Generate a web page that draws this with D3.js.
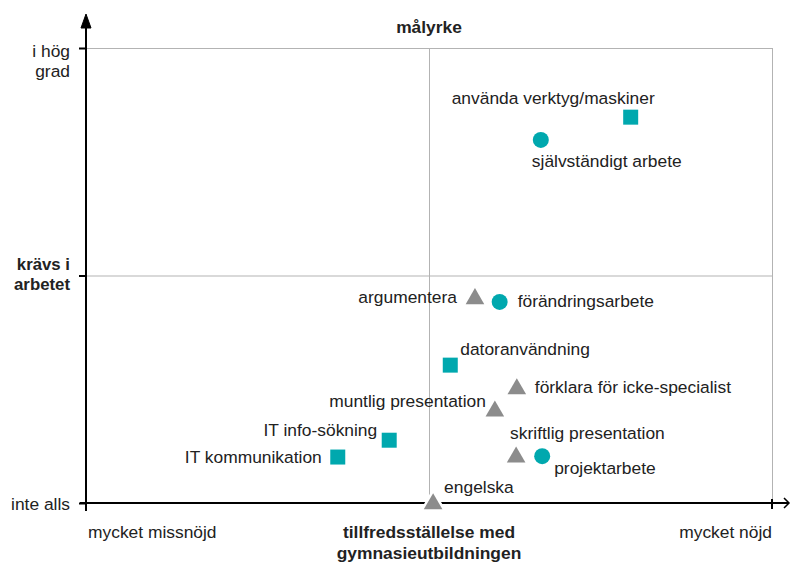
<!DOCTYPE html>
<html>
<head>
<meta charset="utf-8">
<script src="https://cdn.jsdelivr.net/npm/d3@7"></script>
<style>
  body { margin: 0; background: #fff; }
  text { font-family: "Liberation Sans", Arial, sans-serif; fill: #222; }
</style>
</head>
<body>
<script>
// DATA
var skills = ["använda verktyg/maskiner", "självständigt arbete", "argumentera", "förändringsarbete",
  "datoranvändning", "förklara för icke-specialist", "muntlig presentation", "skriftlig presentation",
  "projektarbete", "IT info-sökning", "IT kommunikation", "engelska"];
var satisfaction = [0.794, 0.663, 0.567, 0.603, 0.531, 0.628, 0.596, 0.627, 0.665, 0.442, 0.367, 0.506];
var required = [0.848, 0.798, 0.451, 0.442, 0.303, 0.253, 0.204, 0.103, 0.103, 0.138, 0.101, 0.0];
var shapes = ["square", "circle", "triangle", "circle", "square", "triangle", "triangle", "triangle",
  "circle", "square", "square", "triangle"];
var yTickValues = [0, 0.5, 1];
var yTickLabels = [["inte alls"], ["krävs i", "arbetet"], ["i hög", "grad"]];
var xEndLabels = ["mycket missnöjd", "mycket nöjd"];

// label placement: [dx, dy, anchor]
var labelPos = [
  [-179, -13, "start"], [-9, 27, "start"], [-18, 5, "end"], [18, 5, "start"],
  [10, -10, "start"], [18, 5, "start"], [-9, -3, "end"], [-6, -17, "start"],
  [12, 18, "start"], [-12, -4, "end"], [-16, 6, "end"], [11, -10, "start"]
];

var data = skills.map(function(s, i) {
  return {name: s, x: satisfaction[i], y: required[i], shape: shapes[i], lp: labelPos[i]};
});

var svg = d3.select("body").append("svg")
  .attr("width", 791).attr("height", 562);

const fs = 17.4;
const fsBold = 17.4;
const margin = {top: 48, right: 19, bottom: 59, left: 86};
const width = 791 - margin.left - margin.right;
const height = 562 - margin.top - margin.bottom;

const xScale = d3.scaleLinear().domain([0, 1]).range([margin.left, margin.left + width]);
const yScale = d3.scaleLinear().domain([0, 1]).range([margin.top + height, margin.top]);

var grid = svg.append("g").attr("stroke", "#b3b3b3").attr("stroke-width", 1);
// horizontal grid lines
grid.selectAll(".hg").data([0.5, 1]).enter().append("line")
  .attr("x1", xScale(0)).attr("x2", xScale(1))
  .attr("y1", d => yScale(d) + 0.5).attr("y2", d => yScale(d) + 0.5);
// vertical grid lines
grid.selectAll(".vg").data([0.5, 1]).enter().append("line")
  .attr("x1", d => xScale(d) + 0.5).attr("x2", d => xScale(d) + 0.5)
  .attr("y1", yScale(1)).attr("y2", yScale(0));

// axes
var axes = svg.append("g").attr("stroke", "#000").attr("stroke-width", 2).attr("fill", "none");
axes.append("line").attr("x1", xScale(0)).attr("x2", xScale(0))
  .attr("y1", yScale(0) + 8).attr("y2", 22);
axes.append("path").attr("d", "M" + (xScale(0) - 5) + ",28L" + xScale(0) + ",14L" + (xScale(0) + 5) + ",28Z")
  .attr("fill", "#000").attr("stroke-width", 1);
axes.append("line").attr("x1", xScale(0) - 6).attr("x2", 789)
  .attr("y1", yScale(0)).attr("y2", yScale(0));
axes.append("path").attr("d", "M784," + (yScale(0) - 5) + "L789," + yScale(0) + "L784," + (yScale(0) + 5))
  .attr("stroke-width", 1.5);
// y ticks
axes.selectAll(".yt").data(yTickValues).enter().append("line")
  .attr("x1", xScale(0) - 7).attr("x2", xScale(0))
  .attr("y1", d => yScale(d) + 0.5).attr("y2", d => yScale(d) + 0.5);
// x tick at right end
axes.append("line").attr("x1", xScale(1)).attr("x2", xScale(1))
  .attr("y1", yScale(0) - 4).attr("y2", yScale(0) + 6);

// y tick labels
yTickValues.forEach(function(v, i) {
  var t = svg.append("text").attr("text-anchor", "end").attr("font-size", v === 0.5 ? 16.8 : fs)
    .attr("font-weight", v === 0.5 ? "bold" : "normal");
  var lines = yTickLabels[i];
  var y0 = v === 0 ? yScale(v) + 7 : (v === 0.5 ? yScale(v) - 6 : yScale(v) + 9);
  lines.forEach(function(l, j) {
    t.append("tspan").attr("x", 70).attr("y", y0 + j * 20).text(l);
  });
});

// x end labels
svg.append("text").attr("x", xScale(0) + 2).attr("y", 538).attr("font-size", fs).text(xEndLabels[0]);
svg.append("text").attr("x", xScale(1)).attr("y", 538).attr("font-size", fs)
  .attr("text-anchor", "end").text(xEndLabels[1]);

// titles
svg.append("text").attr("x", xScale(0.5)).attr("y", 33).attr("text-anchor", "middle")
  .attr("font-size", fsBold).attr("font-weight", "bold").text("målyrke");
var xt = svg.append("text").attr("text-anchor", "middle").attr("font-size", fsBold).attr("font-weight", "bold");
xt.append("tspan").attr("x", xScale(0.5)).attr("y", 538).text("tillfredsställelse med");
xt.append("tspan").attr("x", xScale(0.5)).attr("y", 559).text("gymnasieutbildningen");

// marks
var teal = "#00a8ae", gray = "#8c8c8c";
var sym = {
  square: d3.symbol().type(d3.symbolSquare).size(225),
  circle: d3.symbol().type(d3.symbolCircle).size(201),
  triangle: d3.symbol().type(d3.symbolTriangle).size(150)
};
var pts = svg.append("g").selectAll("g").data(data).enter().append("g")
  .attr("transform", d => "translate(" + xScale(d.x) + "," + yScale(d.y) + ")");
pts.append("path")
  .attr("d", d => sym[d.shape]())
  .attr("transform", d => d.shape === "triangle" ? "translate(0,1)" : null)
  .attr("fill", d => d.shape === "triangle" ? gray : teal)
  .attr("stroke", d => d.y === 0 ? "#fff" : "none")
  .attr("stroke-width", 5)
  .attr("paint-order", "stroke");
pts.append("text")
  .attr("x", d => d.lp[0]).attr("y", d => d.lp[1])
  .attr("text-anchor", d => d.lp[2])
  .attr("font-size", fs).attr("fill", "#222")
  .text(d => d.name);
</script>
</body>
</html>
